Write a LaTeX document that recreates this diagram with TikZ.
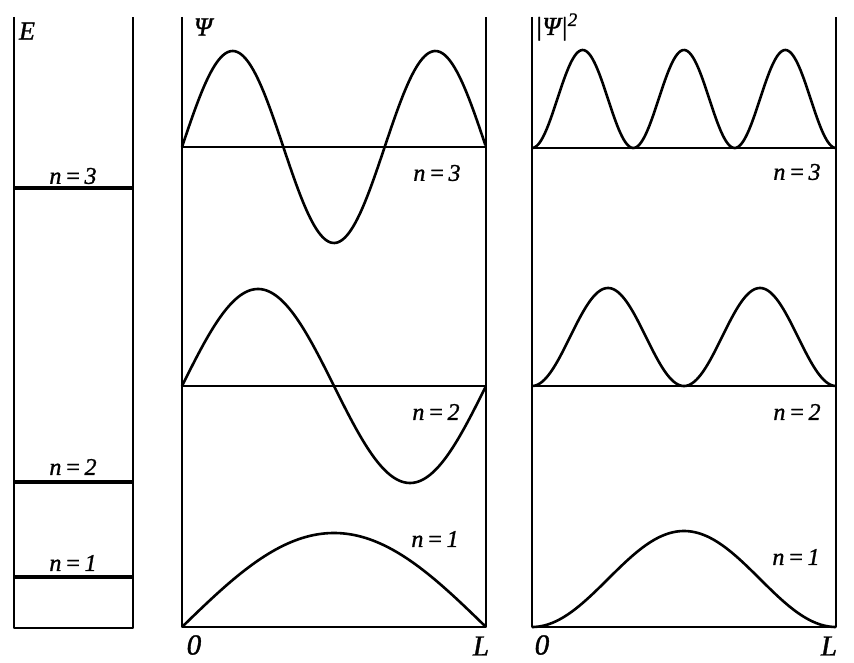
\documentclass[tikz,border=0pt]{standalone}
\usepackage{fontspec}
\setmainfont{Liberation Serif}
\newfontfamily\lblfont{Liberation Serif}[ItalicFeatures={FakeBold=1.2}]
\newcommand{\eqsp}{\hspace{3.5pt}=\hspace{3.5pt}}
\begin{document}
\begin{tikzpicture}[x=1pt,y=-1pt,
  wall/.style={line width=2.4pt, line join=round},
  base/.style={line width=2pt},
  level/.style={line width=3.6pt},
  curve/.style={line width=2.6pt, line join=round},
  lbl/.style={font=\lblfont\fontsize{24}{26}\selectfont\itshape, inner sep=0pt},
  axlbl/.style={font=\lblfont\fontsize{29}{31}\selectfont\itshape, inner sep=0pt},
  qlbl/.style={font=\lblfont\fontsize{26}{28}\selectfont\itshape, inner sep=0pt}]
\useasboundingbox (0,0) rectangle (854,663);
% panel 1
\draw[wall] (14,17) -- (14,628) -- (133,628) -- (133,17);
\draw[level] (14,188) -- (133,188);
\draw[level] (14,482) -- (133,482);
\draw[level] (14,577) -- (133,577);
\node[qlbl] (e) at (27,31) {E};
\node[lbl] (l13) at (73,176) {n\eqsp3};
\node[lbl] (l12) at (73,467) {n\eqsp2};
\node[lbl] (l11) at (73,563) {n\eqsp1};
% panel 2
\draw[wall] (182,17) -- (182,627) -- (486,627) -- (486,17);
\draw[base] (182,147) -- (486,147);
\draw[base] (182,386) -- (486,386);
\draw[curve] plot[domain=0:1, samples=150] ({182+304*\x},{147-96*sin(540*\x)});
\draw[curve] plot[domain=0:1, samples=150] ({182+304*\x},{386-97*sin(360*\x)});
\draw[curve] plot[domain=0:1, samples=150] ({182+304*\x},{627-94*sin(180*\x)});
\node[qlbl] (psi) at (203,27) {Ψ};
\node[lbl] (l23) at (437,173) {n\eqsp3};
\node[lbl] (l22) at (436,412) {n\eqsp2};
\node[lbl] (l21) at (435,539) {n\eqsp1};
\node[axlbl] (o2) at (194,645) {0};
\node[axlbl] (L2) at (481,646) {L};
% panel 3
\draw[wall] (532,17) -- (532,627) -- (836,627) -- (836,17);
\draw[base] (532,148) -- (836,148);
\draw[base] (532,386) -- (836,386);
\draw[curve] plot[domain=0:1, samples=200] ({532+304*\x},{148-98*(sin(540*\x))^2});
\draw[curve] plot[domain=0:1, samples=200] ({532+304*\x},{386-98*(sin(360*\x))^2});
\draw[curve] plot[domain=0:1, samples=200] ({532+304*\x},{627-96*(sin(180*\x))^2});
\node[qlbl, anchor=west] (psi2) at (535,27) {|Ψ|\raisebox{9pt}{\fontsize{19}{20}\selectfont 2}};
\node[lbl] (l33) at (797,172) {n\eqsp3};
\node[lbl] (l32) at (797,412) {n\eqsp2};
\node[lbl] (l31) at (796,557) {n\eqsp1};
\node[axlbl] (o3) at (542,645) {0};
\node[axlbl] (L3) at (829,646) {L};
\end{tikzpicture}
\end{document}
